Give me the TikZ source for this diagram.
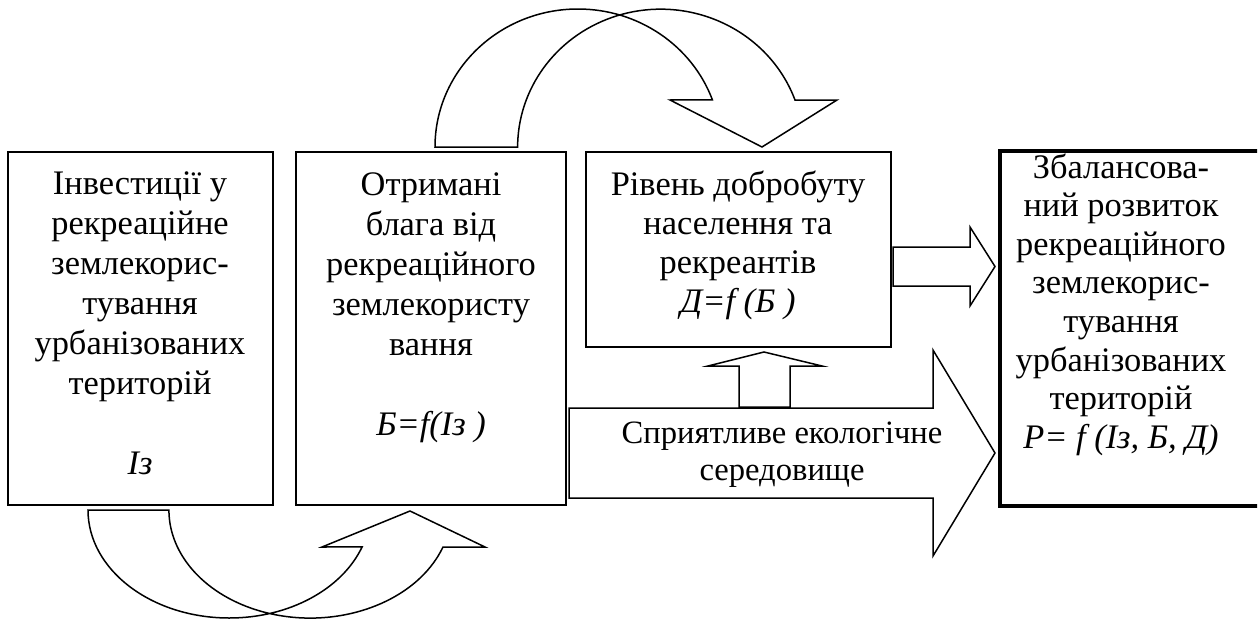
\documentclass[tikz,border=0pt]{standalone}
\usepackage{fontspec}
\setmainfont{Liberation Serif}

\tikzset{
    box/.style={draw, line width=0.75pt, inner sep=0pt},
    txt/.style={anchor=base, inner sep=0pt, font=\fontsize{17.2}{20}\selectfont},
    blockarrow/.style={draw, line width=0.75pt, line join=miter},
}
\newcommand{\stack}[1]{\begin{tabular}[t]{@{}c@{}}#1\end{tabular}}

\begin{document}
\begin{tikzpicture}[x=0.5pt, y=-0.5pt]
    \useasboundingbox (0,0) rectangle (1258,621);
    \clip (0,0) rectangle (1257,621);

    % x0, head base, tip, y centre, shaft half, head half
    \def\arrowright#1#2#3#4#5#6{%
        \draw[blockarrow] (#1,#4-#5) -- (#2,#4-#5) -- (#2,#4-#6) -- (#3,#4)
            -- (#2,#4+#6) -- (#2,#4+#5) -- (#1,#4+#5) -- cycle;
    }

    % blocks
    \node[box, minimum width=132.5pt, minimum height=176.5pt] (inv) at (140.5,328.5) {};
    \node[box, minimum width=135pt, minimum height=176.5pt] (blaga) at (431,328.5) {};
    \node[box, minimum width=152.5pt, minimum height=97.5pt] (dobr) at (738.5,249.5) {};
    \node[inner sep=0pt, minimum width=150pt, minimum height=177.5pt] (rozv) at (1150,328.5) {};
    % right side of the last block falls outside the page
    \draw[line width=2pt, line join=miter] (rozv.north east) -- (rozv.north west) -- (rozv.south west) -- (rozv.south east);

    \node[txt] (inv txt) at (140,194) {\stack{Інвестиції у\\рекреаційне\\землекорис-\\тування\\урбанізованих\\територій\\ \\\textit{Із}}};
    \node[txt] (blaga txt) at (431,195) {\stack{Отримані\\блага від\\рекреаційного\\землекористу\\вання\\ \\\textit{Б=f(Із )}}};
    \node[txt, font=\fontsize{17.2}{19.6}\selectfont] (dobr txt) at (738,195) {\stack{Рівень добробуту\\населення та\\рекреантів\\\textit{Д=f (Б )}}};
    \node[txt, font=\fontsize{17.2}{19.3}\selectfont] (rozv txt) at (1121,178) {\stack{Збалансова-\\ний розвиток\\рекреаційного\\землекорис-\\тування\\урбанізованих\\територій\\\textit{Р= f (Із, Б, Д)}}};

    % straight arrows
    \arrowright{893}{970}{995}{266.5}{19.5}{39.5}
    \draw[blockarrow] (739,407) -- (739,366) -- (708,366) -- (764,352) -- (822,366) -- (790,366) -- (790,407) -- cycle;
    \arrowright{569}{933}{995}{453}{45}{103}
    \node[txt, font=\fontsize{16.3}{18.5}\selectfont] (sered) at (782,443) {\stack{Сприятливе екологічне\\середовище}};

    % curved arrow over the top
    \draw[blockarrow] (435,147) arc[start angle=180, end angle=20, x radius=71.5pt, y radius=69pt]
        -- (670,100) -- (762,147) -- (837,100) -- (795,100)
        arc[start angle=20, end angle=180, x radius=71.5pt, y radius=69pt] -- cycle;

    % curved arrow underneath
    \draw[blockarrow] (88,510) arc[start angle=180, end angle=340, x radius=70.65pt, y radius=54pt]
        -- (322,547) -- (410,511) -- (485,547) -- (443,547)
        arc[start angle=340, end angle=180, x radius=70.65pt, y radius=54pt] -- cycle;
\end{tikzpicture}
\end{document}
